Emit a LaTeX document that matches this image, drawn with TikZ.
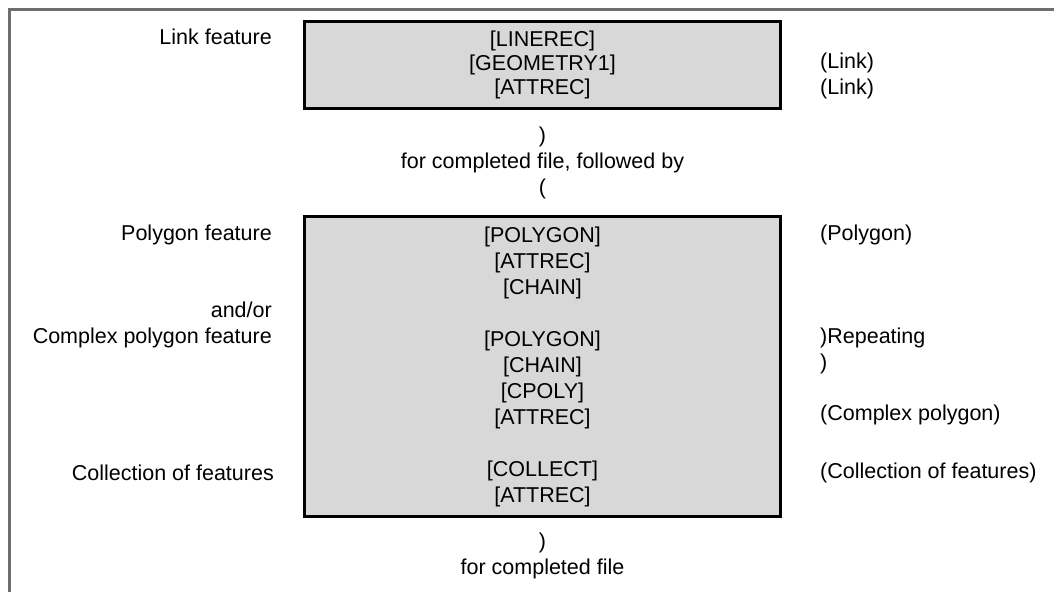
\documentclass[tikz,border=0pt]{standalone}
\usepackage{fontspec}
\setmainfont{Liberation Sans}
\usepackage{xcolor}
\usepackage{tikz}
\usetikzlibrary{positioning}
\definecolor{framegray}{HTML}{6E6E6E}
\definecolor{boxgray}{HTML}{D8D8D8}
\tikzstyle{recbox} = [draw=black, line width=3pt, fill=boxgray, inner sep=0pt, align=center, minimum width=476pt]
\tikzstyle{lbl} = [inner sep=0pt, align=right, anchor=east]
\tikzstyle{note} = [inner sep=0pt, align=left, anchor=west]
\tikzstyle{mid} = [inner sep=0pt, align=center]

\begin{document}
\begin{tikzpicture}[x=1pt, y=-1pt, font=\fontsize{21.5}{26}\selectfont]
    \useasboundingbox (0,0) rectangle (1054,592);
    % Moldura
    \draw[framegray, line width=3pt] (9,592) -- (9,9) -- (1054,9);

    % Caixas
    \node[recbox, minimum height=87pt, font=\fontsize{21.5}{24}\selectfont] (linkbox) at (542.5,65)
        {{[LINEREC]}\\{[GEOMETRY1]}\\{[ATTREC]}};
    \node[recbox, minimum height=300pt] (polybox) at (542.5,366.5)
        {{[POLYGON]}\\{[ATTREC]}\\{[CHAIN]}\\[26pt]{[POLYGON]}\\{[CHAIN]}\\{[CPOLY]}\\{[ATTREC]}\\[26pt]{[COLLECT]}\\{[ATTREC]}};

    % Rotulos a esquerda
    \node[lbl] (linkfeat) at (272,37) {Link feature};
    \node[lbl] (polyfeat) at (272,235) {Polygon feature};
    \node[lbl] (cpolyfeat) at (272,325) {and/or\\Complex polygon feature};
    \node[lbl] (collfeat) at (274,473) {Collection of features};

    % Rotulos a direita
    \node[note] (linknote) at (820,76) {(Link)\\(Link)};
    \node[note] (polynote) at (820,235) {(Polygon)};
    \node[note] (repnote) at (820,351) {)Repeating\\)};
    \node[note] (cpolynote) at (820,415) {(Complex polygon)};
    \node[note] (collnote) at (820,473) {(Collection of features)};

    % Texto entre caixas
    \node[mid] (follow) at (542.5,163) {)\\for completed file, followed by\\(};
    \node[mid] (endfile) at (542.5,556) {)\\for completed file};
\end{tikzpicture}
\end{document}
